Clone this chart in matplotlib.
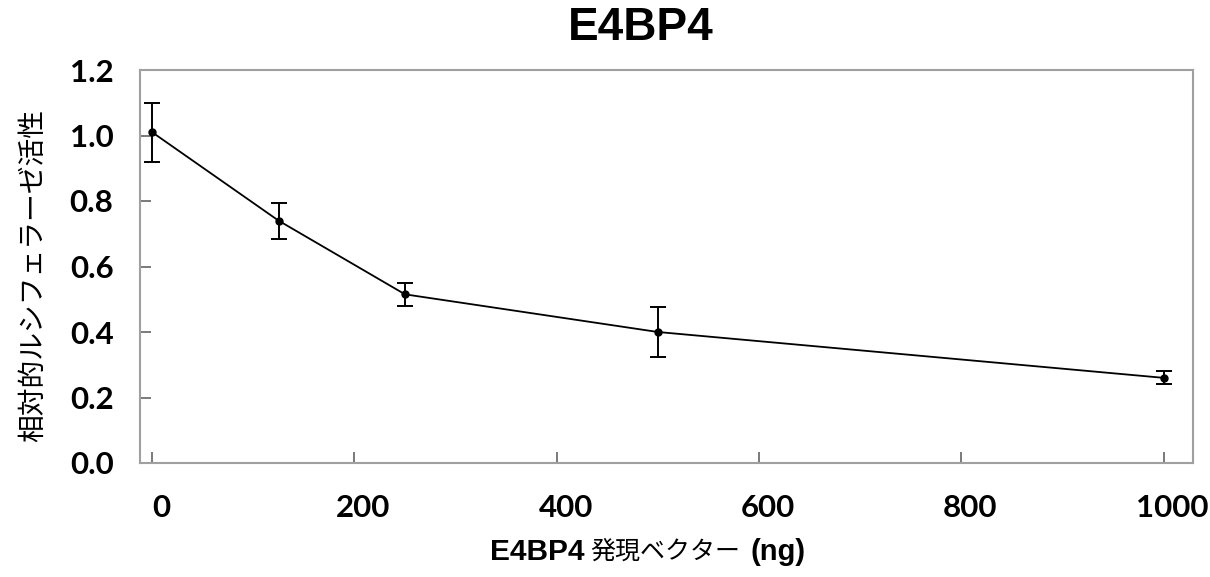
import numpy as np
import matplotlib
matplotlib.use('Agg')
import matplotlib.pyplot as plt
from matplotlib.transforms import ScaledTranslation

# data
dose = [0, 125, 250, 500, 1000]
activity = [1.01, 0.74, 0.515, 0.40, 0.26]
err = [0.09, 0.055, 0.035, 0.075, 0.02]

xticks = [0, 200, 400, 600, 800, 1000]
yticks = [0.0, 0.2, 0.4, 0.6, 0.8, 1.0, 1.2]

W, H = 1210, 577
fig = plt.figure(figsize=(W/100, H/100), dpi=100)
ax = fig.add_axes([140/W, 1-463/H, (1193-140)/W, (463-70)/H])

ax.errorbar(dose, activity, yerr=err, color='k', lw=1.3, marker='o', ms=5,
            elinewidth=1.4, capsize=6, capthick=1.4)

ax.set_xlim(-12, 1029)
ax.set_ylim(0, 1.2)
ax.set_xticks(xticks)
ax.set_yticks(yticks)
ax.set_yticklabels(['%.1f' % v for v in yticks])

for s in ax.spines.values():
    s.set_color('#a0a0a0')
    s.set_linewidth(1.5)

ax.tick_params(direction='in', length=8, width=1.3, color='#707070')
ax.tick_params(axis='y', pad=19)
ax.tick_params(axis='x', pad=22)
for lab in ax.get_xticklabels() + ax.get_yticklabels():
    lab.set_fontfamily('Lato')
    lab.set_fontweight('bold')
    lab.set_fontsize(22.5)
for lab in ax.get_xticklabels():
    lab.set_transform(lab.get_transform() + ScaledTranslation(0.09, 0, fig.dpi_scale_trans))

fig.text(641/W, 1-28/H, 'E4BP4', ha='center', va='center',
         fontsize=33, fontweight='bold', family='Liberation Sans')

fig.text(33/W, 1-276/H, '相対的ルシフェラーゼ活性', rotation=90, ha='center', va='center',
         fontsize=20, family=['Noto Sans CJK JP', 'DejaVu Sans'])

# x label in three pieces (bold latin, regular japanese)
fig.text(490/W, 1-552/H, 'E4BP4', ha='left', va='center',
         fontsize=21.5, fontweight='bold', family='Liberation Sans')
fig.text(590/W, 1-552/H, '発現ベクター', ha='left', va='center',
         fontsize=18, family=['Noto Sans CJK JP', 'DejaVu Sans'])
fig.text(750/W, 1-552/H, '(ng)', ha='left', va='center',
         fontsize=21, fontweight='bold', family='Liberation Sans')

plt.savefig('out.png', dpi=100)
